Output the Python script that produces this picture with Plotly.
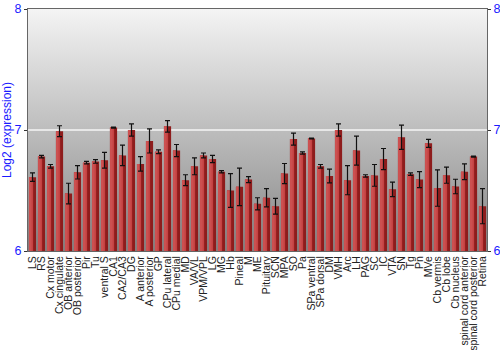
import plotly.graph_objects as go

categories = ["LS", "RS", "Cx motor", "Cx cingulate", "OB anterior", "OB posterior", "Pir", "Tu",
              "ventral S", "CA1", "CA2/CA3", "DG", "A anterior", "A posterior", "GP", "CPu lateral",
              "CPu medial", "MD", "VA/VL", "VPM/VPL", "LG", "MG", "Hb", "Pineal", "M", "ME",
              "Pituitary", "SCN", "MPA", "SO", "Pa", "SPa ventral", "SPa dorsal", "DM", "VMH", "Arc",
              "LH", "PAG", "SC", "IC", "VTA", "SN", "Tg", "Pn", "MVe", "Cb vermis", "Cb lobe",
              "Cb nucleus", "spinal cord anterior", "spinal cord posterior", "Retina"]

values = [6.61, 6.78, 6.70, 6.99, 6.475, 6.65, 6.73, 6.74, 6.75, 7.02, 6.79, 7.00, 6.72, 6.91, 6.82,
          7.03, 6.83, 6.585, 6.70, 6.79, 6.76, 6.655, 6.50, 6.53, 6.59, 6.39, 6.44, 6.37, 6.64, 6.925,
          6.81, 6.93, 6.70, 6.62, 7.00, 6.585, 6.83, 6.62, 6.625, 6.76, 6.51, 6.94, 6.635, 6.59, 6.89,
          6.52, 6.627, 6.533, 6.655, 6.78, 6.37]

errors = [0.035, 0.01, 0.015, 0.045, 0.085, 0.055, 0.01, 0.015, 0.065, 0.005, 0.085, 0.05, 0.06, 0.10,
          0.015, 0.047, 0.05, 0.045, 0.07, 0.02, 0.03, 0.01, 0.14, 0.155, 0.025, 0.05, 0.075, 0.065,
          0.083, 0.05, 0.01, 0.004, 0.015, 0.057, 0.05, 0.12, 0.12, 0.01, 0.09, 0.087, 0.06, 0.10,
          0.01, 0.066, 0.033, 0.15, 0.067, 0.06, 0.065, 0.004, 0.145]

y_range = [6, 8]
tick_vals = [6, 7, 8]
grid_value = 7

fig = go.Figure()

# gradient background (on main x axis, numeric 0..1)
fig.add_trace(go.Scatter(x=[0, 1, 1, 0, 0], y=[y_range[0], y_range[0], y_range[1], y_range[1], y_range[0]],
                         mode="lines", line=dict(width=0), fill="toself",
                         fillgradient=dict(type="vertical",
                                           colorscale=[[0, "rgb(134,134,134)"], [1, "rgb(244,244,244)"]]),
                         xaxis="x", yaxis="y", hoverinfo="skip"))
# white gridline at 7, behind bars
fig.add_trace(go.Scatter(x=[0, 1], y=[grid_value, grid_value], mode="lines",
                         line=dict(color="#f6f6f6", width=1.6), xaxis="x", yaxis="y", hoverinfo="skip"))

# dark base bar
fig.add_trace(go.Bar(x=categories, y=values, width=0.8, xaxis="x2", yaxis="y",
                     marker=dict(color="#8e1c1c", line=dict(width=0)), hoverinfo="skip"))
# lighter highlight to mimic cylindrical shading
fig.add_trace(go.Bar(x=categories, y=values, width=0.45, offset=-0.38, xaxis="x2", yaxis="y",
                     marker=dict(color="#c44242", line=dict(width=0)), hoverinfo="skip"))
fig.add_trace(go.Bar(x=categories, y=values, width=0.2, offset=-0.3, xaxis="x2", yaxis="y",
                     marker=dict(color="#cc5050", line=dict(width=0)), hoverinfo="skip"))
# error bars
fig.add_trace(go.Scatter(x=categories, y=values, mode="markers", xaxis="x2", yaxis="y2",
                         marker=dict(size=0.1, color="rgba(0,0,0,0)"),
                         error_y=dict(type="data", array=errors, color="#111111", thickness=1.2, width=2.5),
                         hoverinfo="skip"))

fig.update_layout(
    width=500, height=350,
    margin=dict(l=28, r=13, t=9, b=99, autoexpand=False),
    paper_bgcolor="white", plot_bgcolor="white",
    barmode="overlay", bargap=0.2,
    showlegend=False,
    font=dict(family="Liberation Sans, Arial, sans-serif"),
    xaxis=dict(range=[0, 1], visible=False, fixedrange=True, showgrid=False, zeroline=False),
    xaxis2=dict(type="category", overlaying="x", side="bottom",
                tickmode="array", tickvals=categories, ticktext=categories,
                tickangle=-90, tickfont=dict(size=10.5, color="#222222"), automargin=False,
                showline=True, mirror=True, linecolor="#666666", linewidth=1,
                ticks="", showgrid=False, range=[-0.5, len(categories) - 0.5]),
    yaxis=dict(range=y_range, tickvals=tick_vals, tickfont=dict(size=12.5, color="#1a1aff"),
               title=dict(text="Log2 (expression)", font=dict(size=12, color="#1a1aff"), standoff=2),
               automargin=False,
               showline=True, mirror=True, linecolor="#666666", linewidth=1,
               ticks="outside", ticklen=3, tickcolor="#333333", showgrid=False, zeroline=False),
    yaxis2=dict(range=y_range, tickvals=tick_vals, overlaying="y", side="right", automargin=False,
                tickfont=dict(size=12.5, color="#1a1aff"), ticks="outside", ticklen=3,
                tickcolor="#333333", showgrid=False, zeroline=False, showline=False),
)

fig.write_html("out.html")
